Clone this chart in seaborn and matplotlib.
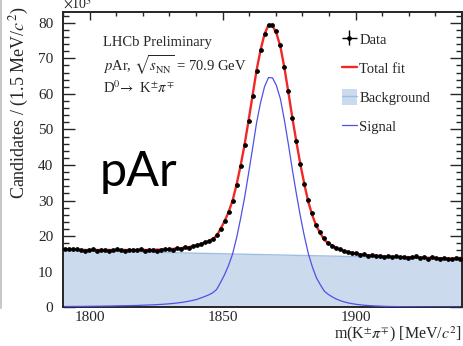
import numpy as np
import matplotlib
matplotlib.use('Agg')
import matplotlib.pyplot as plt
from matplotlib.lines import Line2D
from matplotlib.patches import Patch
from matplotlib.ticker import MultipleLocator
import seaborn as sns

# Bins de 1.5 MeV entre 1790 y 1940
masa_min, masa_max, ancho_bin = 1790.0, 1940.0, 1.5
masa = np.arange(masa_min + ancho_bin / 2, masa_max, ancho_bin)

# Datos (en unidades de 10^3)
datos = [16.5, 16.4, 16.3, 16.4, 16.2, 15.9, 16.0, 16.3, 15.8, 16.1,
         16.2, 15.9, 16.0, 16.3, 16.1, 15.8, 16.2, 16.0, 16.1, 16.3,
         15.9, 16.0, 16.2, 15.9, 16.1, 16.3, 16.4, 16.2, 16.6, 16.5,
         16.9, 16.8, 17.3, 17.5, 17.7, 18.3, 18.6, 19.3,
         20.3, 22.1, 24.2, 26.8, 29.9, 34.4, 39.7, 45.6, 52.4, 59.4, 66.5, 72.3,
         76.8, 79.3, 79.3, 77.7, 73.8, 67.6, 60.7, 53.3, 46.7, 40.2,
         34.6, 30.1, 26.6, 23.2, 21.1, 19.4, 18.0, 17.1, 16.6, 16.3,
         15.7, 15.6, 15.2, 15.2, 14.8, 14.9, 14.5, 14.7, 14.4, 14.5,
         14.2, 14.4, 14.1, 14.3, 14.0, 14.2, 13.9, 14.1, 14.3, 13.9,
         14.0, 13.7, 14.1, 13.8, 13.6, 13.9, 13.7, 13.5, 13.8, 13.6]

# Ajuste total
ajuste_total = [16.2, 16.2, 16.2, 16.2, 16.1, 16.1, 16.1, 16.1, 16.1, 16.1,
                16.1, 16.1, 16.1, 16.1, 16.1, 16.1, 16.1, 16.1, 16.1, 16.1,
                16.1, 16.1, 16.1, 16.2, 16.2, 16.3, 16.3, 16.4, 16.5, 16.6,
                16.8, 16.9, 17.2, 17.4, 17.8, 18.2, 18.6, 19.2,
                20.1, 22.1, 24.2, 26.8, 30.0, 34.5, 39.8, 45.7, 52.5, 59.5, 66.6, 72.3,
                76.8, 79.4, 79.2, 77.0, 73.2, 67.2, 60.3, 53.1, 46.4, 40.1,
                34.5, 29.5, 25.8, 22.8, 20.8, 18.9, 18.0, 17.3, 16.7, 16.2,
                15.8, 15.5, 15.3, 15.1, 14.9, 14.8, 14.6, 14.6, 14.5, 14.4,
                14.3, 14.3, 14.2, 14.2, 14.1, 14.1, 14.1, 14.0, 14.0, 14.0,
                13.9, 13.9, 13.9, 13.8, 13.8, 13.8, 13.7, 13.7, 13.7, 13.7]

# Componente de senal
senal = [0.21, 0.22, 0.23, 0.24, 0.24, 0.25, 0.27, 0.28, 0.30, 0.31,
         0.33, 0.34, 0.36, 0.39, 0.41, 0.43, 0.45, 0.48, 0.50, 0.55,
         0.59, 0.64, 0.68, 0.74, 0.80, 0.87, 0.96, 1.06, 1.18, 1.33,
         1.49, 1.70, 1.93, 2.19, 2.59, 3.01, 3.46, 4.06,
         5.0, 7.0, 9.2, 11.8, 15.0, 19.5, 24.9, 30.8, 37.6, 44.6, 51.8, 57.5,
         62.0, 64.6, 64.5, 62.3, 58.5, 52.5, 45.7, 38.5, 31.8, 25.5,
         19.9, 15.0, 11.3, 8.3, 6.3, 4.5, 3.6, 2.9, 2.3, 1.85,
         1.5, 1.2, 1.0, 0.82, 0.68, 0.57, 0.48, 0.41, 0.35, 0.30,
         0.26, 0.23, 0.20, 0.18, 0.16, 0.14, 0.13, 0.12, 0.11, 0.10,
         0.09, 0.08, 0.08, 0.07, 0.07, 0.06, 0.06, 0.06, 0.05, 0.05]

# Fondo lineal (extremos)
fondo_x = [1790.0, 1940.0]
fondo_y = [16.0, 13.6]

datos = np.array(datos)
error_datos = np.sqrt(datos * 1e3) / 1e3

sns.set_style('ticks')
plt.rcParams['font.family'] = ['Liberation Serif', 'DejaVu Serif']
plt.rcParams['mathtext.fontset'] = 'stix'

fig = plt.figure(figsize=(4.63, 3.46), dpi=100)
ax = fig.add_axes([0.136, 0.112, 0.862, 0.853])

col_fondo = '#cbdaed'
col_fondo_linea = '#9fbfe2'
col_senal = '#5050e6'
col_total = '#f02828'

# Fondo
ax.fill_between(fondo_x, 0, fondo_y, color=col_fondo, lw=0, zorder=1)
sns.lineplot(x=fondo_x, y=fondo_y, ax=ax, color=col_fondo_linea, lw=1, zorder=2)

# Senal y ajuste total
sns.lineplot(x=masa, y=senal, ax=ax, color=col_senal, lw=0.9, zorder=3)
sns.lineplot(x=masa, y=ajuste_total, ax=ax, color=col_total, lw=1.7, zorder=4)

# Datos
ax.errorbar(masa, datos, xerr=ancho_bin / 2, yerr=error_datos, fmt='o', ms=2.4,
            color='black', elinewidth=1.0, capsize=0, zorder=5)

ax.set_xlim(masa_min, masa_max)
ax.set_ylim(0, 83)
ax.xaxis.set_major_locator(MultipleLocator(50))
ax.xaxis.set_minor_locator(MultipleLocator(10))
ax.yaxis.set_major_locator(MultipleLocator(10))
ax.yaxis.set_minor_locator(MultipleLocator(2))

ax.tick_params(which='both', direction='in', top=True, right=True, labelsize=11, width=1)
ax.tick_params(axis='x', which='major', length=5.5, pad=2.5)
ax.tick_params(axis='x', which='minor', length=3)
ax.tick_params(axis='y', which='major', length=8.5, pad=7)
ax.tick_params(axis='y', which='minor', length=4.5)
for s in ax.spines.values():
    s.set_linewidth(1.4)

# Etiquetas de ejes
ax.set_ylabel('Candidates / (1.5 MeV/$c^2$)', fontsize=13, loc='top')
ax.yaxis.set_label_coords(-0.08, 1.02)
ax.set_xlabel(r'm(K$^{\pm}\pi^{\mp}$) [MeV/$c^2$]', fontsize=11.5, loc='right')
ax.xaxis.set_label_coords(1.0, -0.058)
ax.text(0.0, 1.003, r'$\times$10$^3$', transform=ax.transAxes, fontsize=10,
        ha='left', va='bottom')

# Textos
ax.text(0.10, 0.898, 'LHCb Preliminary', transform=ax.transAxes, fontsize=10.5, va='center')
ax.text(0.10, 0.820, r'$p$Ar, $\sqrt{s_{\rm NN}}$ = 70.9 GeV', transform=ax.transAxes,
        fontsize=10.5, va='center')
ax.text(0.10, 0.743, r'D$^0\!\rightarrow$ K$^{\pm}\pi^{\mp}$', transform=ax.transAxes,
        fontsize=10.5, va='center')
ax.text(0.093, 0.411, 'pAr', transform=ax.transAxes, fontsize=35,
        family=['Lato', 'DejaVu Sans'], va='baseline', color='black')

# Leyenda
h_datos = ax.errorbar([], [], xerr=[], yerr=[], fmt='o', ms=2.4, color='black', elinewidth=1.0)
h_total = Line2D([], [], color=col_total, lw=1.7)
h_fondo = (Patch(facecolor=col_fondo, edgecolor='none'), Line2D([], [], color=col_fondo_linea, lw=1))
h_senal = Line2D([], [], color=col_senal, lw=0.9)
ax.legend([h_datos, h_total, h_fondo, h_senal], ['Data', 'Total fit', 'Background', 'Signal'],
          loc='upper left', bbox_to_anchor=(0.699, 0.935), frameon=False, fontsize=10.5,
          borderpad=0, borderaxespad=0, handlelength=1.0, handleheight=1.3,
          handletextpad=0.2, labelspacing=0.9)

# Borde gris de la captura
fig.add_artist(Line2D([0.003, 0.003], [0.11, 1.0], color='#c8c8c8', lw=1.5))

plt.savefig('out.png', dpi=100)
